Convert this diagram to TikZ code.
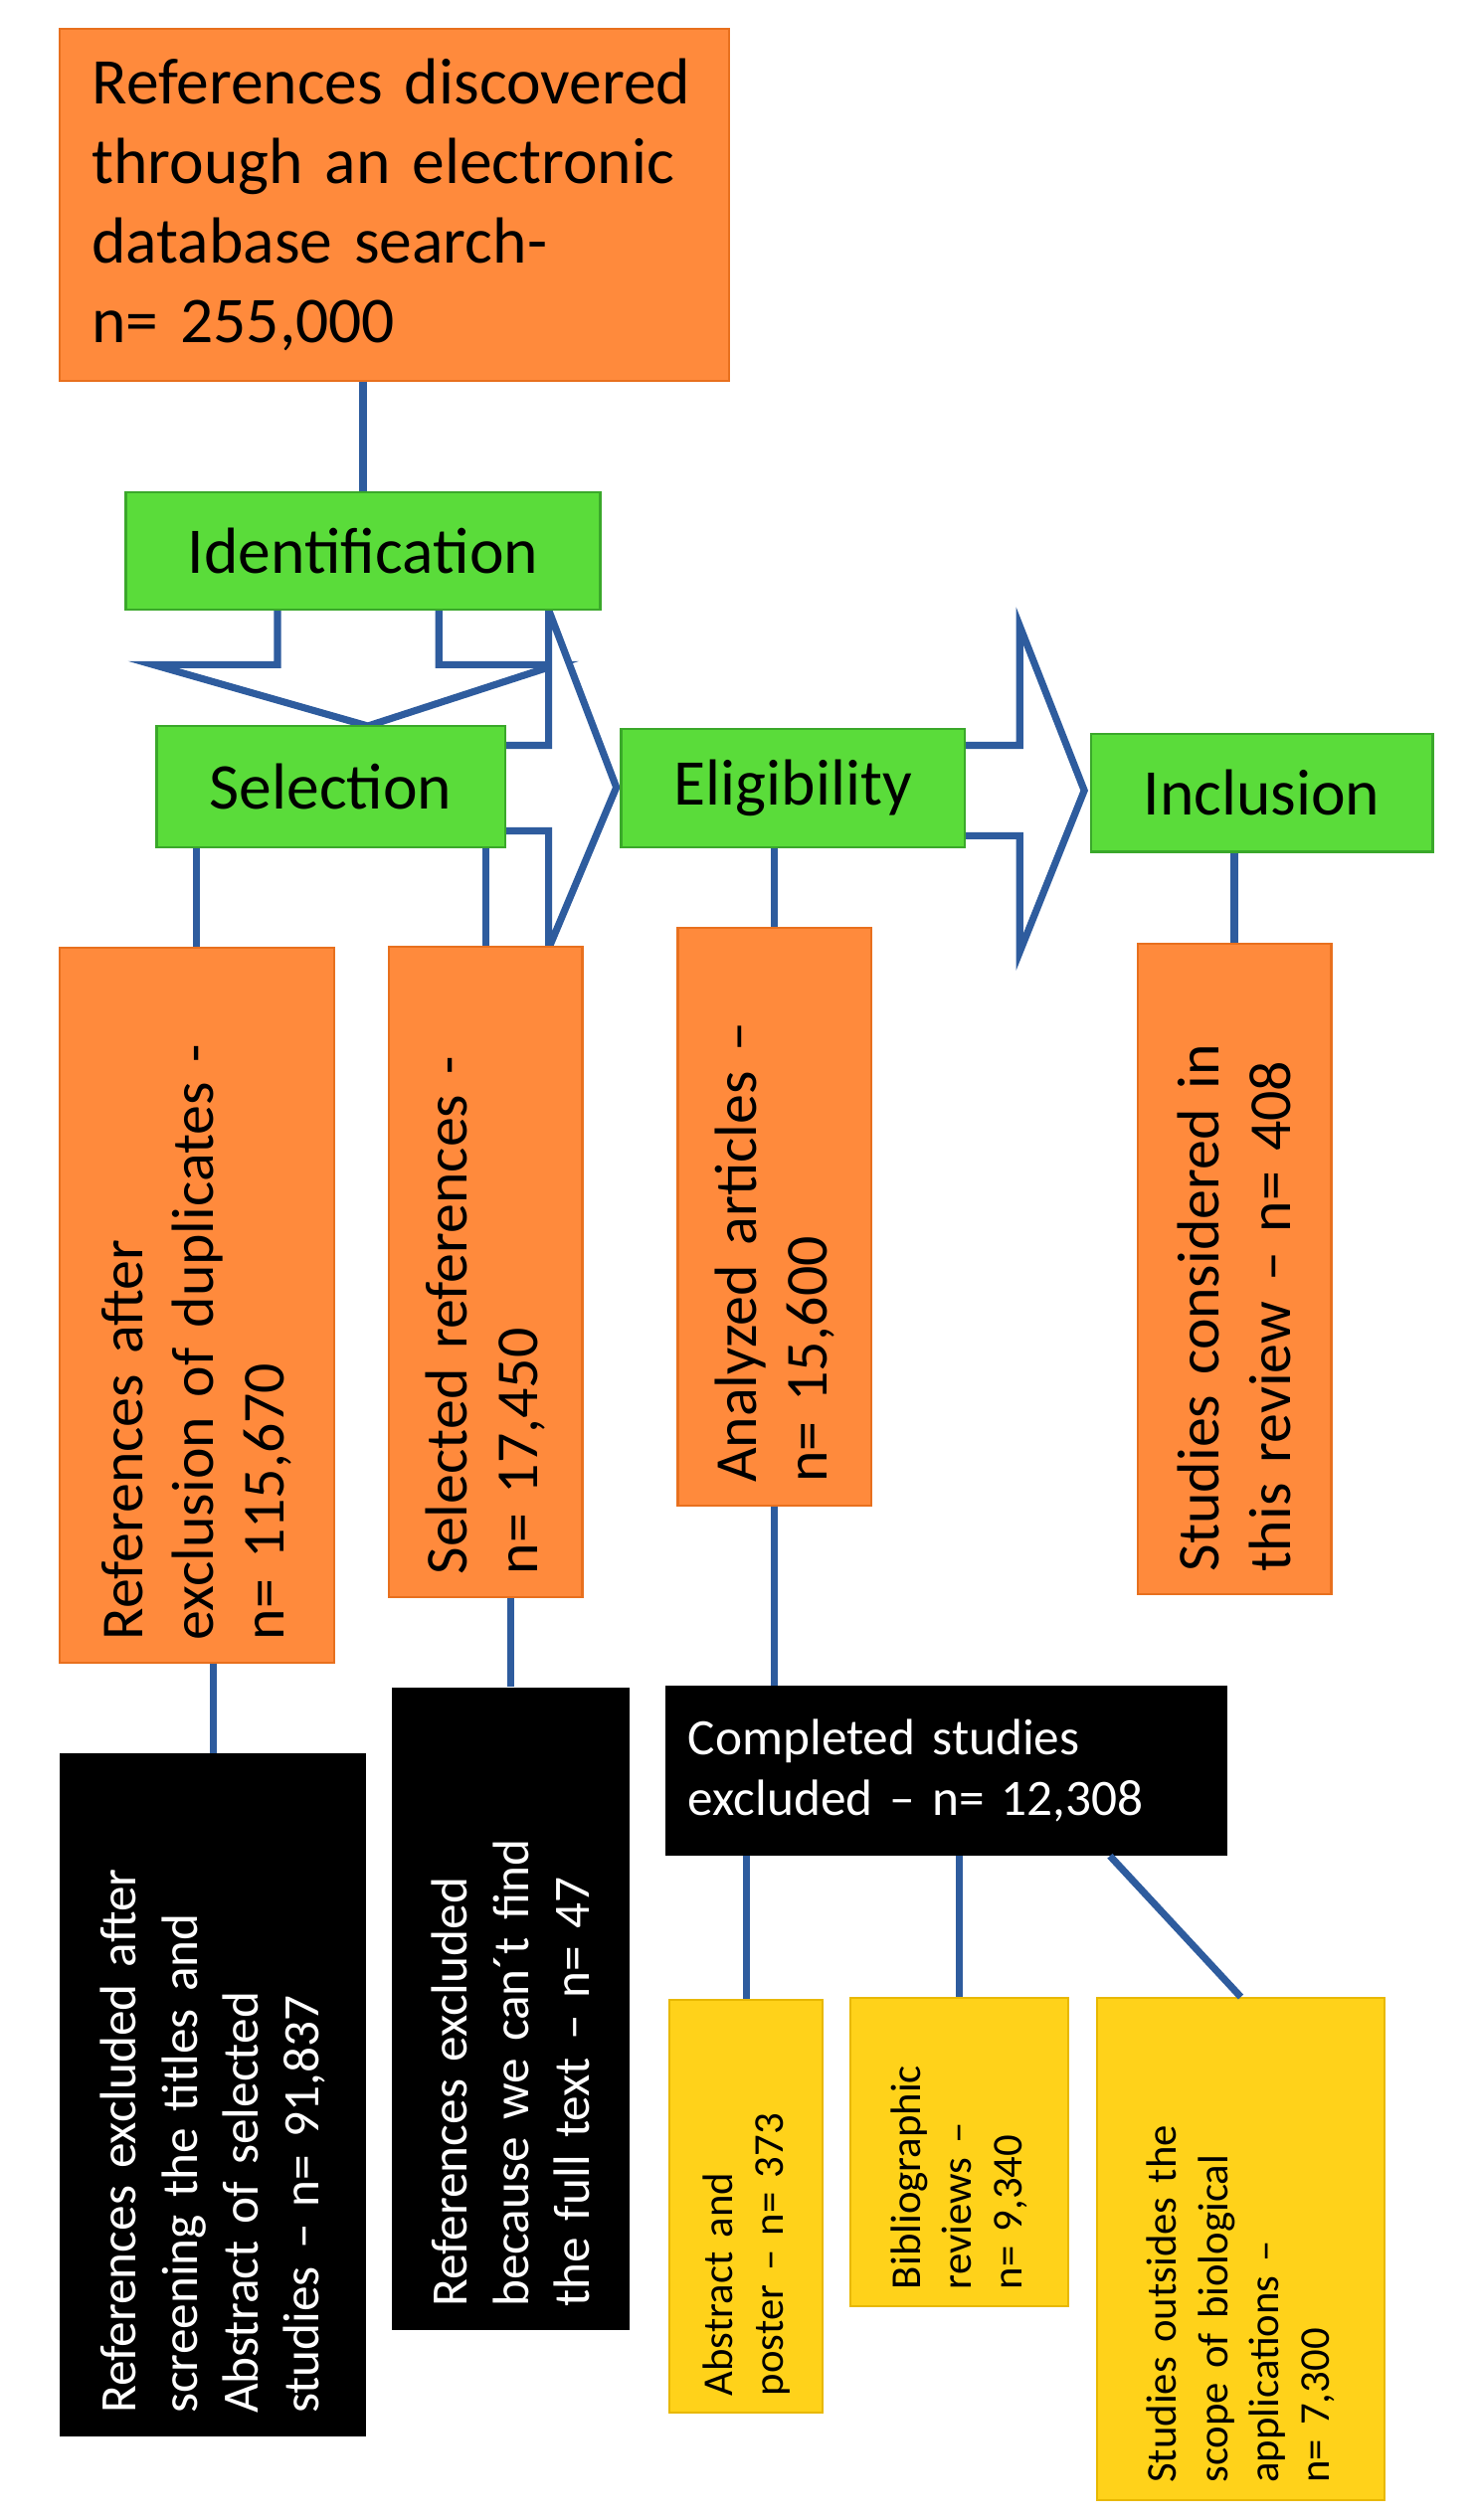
\documentclass[tikz,border=0pt]{standalone}
\usepackage{fontspec}
\setmainfont{Carlito}
\definecolor{org}{HTML}{FF8A3C}
\definecolor{orgd}{HTML}{E8701E}
\definecolor{grn}{HTML}{5ADC3A}
\definecolor{grnd}{HTML}{3AA82A}
\definecolor{yl}{HTML}{FFD21A}
\definecolor{yld}{HTML}{E8B800}
\definecolor{bl}{HTML}{2E5C9E}
\begin{document}
\begin{tikzpicture}[x=0.02cm,y=-0.02cm,
  orange/.style={fill=org, draw=orgd, line width=0.8pt, inner sep=8pt},
  green/.style={fill=grn, draw=grnd, line width=0.8pt, font=\fontsize{23}{28}\selectfont},
  blk/.style={fill=black, text=white, inner sep=8pt},
  yel/.style={fill=yl, draw=yld, line width=0.8pt, inner sep=6pt, font=\fontsize{15}{18}\selectfont},
  con/.style={draw=bl, line width=2.5pt},
  harrow/.style={draw=bl, line width=2.5pt, fill=white, line join=miter}]
\useasboundingbox (0,0) rectangle (915,1562);
% hollow arrows
\draw[harrow] (172,372) -- (172,412) -- (95,412) -- (228,450) -- (345,412) -- (272,412) -- (272,372);
\draw[harrow] (313,462) -- (340,462) -- (340,378) -- (382,488) -- (340,588) -- (340,515) -- (313,515);
\draw[harrow] (598,462) -- (632,462) -- (632,388) -- (672,490) -- (632,590) -- (632,518) -- (598,518);
% boxes
\node[orange, minimum width=8.3cm, minimum height=4.36cm, text width=7.5cm, align=left, font=\fontsize{23}{28}\selectfont] (top) at (244.5,127) {References discovered\\through an electronic\\database search-\\n= 255,000};
\node[green, minimum width=5.88cm, minimum height=1.46cm] (ident) at (225,341.5) {Identification};
\node[green, minimum width=4.32cm, minimum height=1.5cm] (sel) at (205,487.5) {Selection};
\node[green, minimum width=4.26cm, minimum height=1.46cm] (elig) at (491.5,488.5) {Eligibility};
\node[green, minimum width=4.24cm, minimum height=1.46cm] (incl) at (782,491.5) {Inclusion};
\node[orange, rotate=90, minimum width=8.76cm, minimum height=3.4cm, text width=8.3cm, align=left, font=\fontsize{21}{25}\selectfont] (o1) at (122,809) {References after\\exclusion of duplicates -\\n= 115,670};
\node[orange, rotate=90, minimum width=7.94cm, minimum height=2.4cm, text width=7.5cm, align=left, font=\fontsize{21}{25}\selectfont] (o2) at (301,788.5) {Selected references -\\n= 17,450};
\node[orange, rotate=90, minimum width=7.04cm, minimum height=2.4cm, text width=6.6cm, align=left, font=\fontsize{21}{25}\selectfont] (o3) at (480,754) {Analyzed articles –\\n= 15,600};
\node[orange, rotate=90, minimum width=7.94cm, minimum height=2.4cm, text width=7.5cm, align=left, font=\fontsize{21}{25}\selectfont] (o4) at (765,786.5) {Studies considered in\\this review – n= 408};
\node[blk, rotate=90, minimum width=8.26cm, minimum height=3.8cm, text width=7.9cm, align=left, font=\fontsize{18}{21.5}\selectfont] (b1) at (132,1298.5) {References excluded after\\screening the titles and\\Abstract of selected\\studies – n= 91,837};
\node[blk, rotate=90, minimum width=7.8cm, minimum height=2.94cm, text width=7.4cm, align=left, font=\fontsize{18}{21.5}\selectfont] (b2) at (316.5,1245) {References excluded\\because we can´t find\\the full text – n= 47};
\node[blk, minimum width=6.86cm, minimum height=2.1cm, text width=6.4cm, align=left, font=\fontsize{18}{21.5}\selectfont] (b3) at (586.5,1097.5) {Completed studies\\excluded – n= 12,308};
\node[yel, rotate=90, minimum width=4.98cm, minimum height=1.9cm, text width=4.7cm, align=left] (y1) at (462.5,1367.5) {Abstract and\\poster – n= 373};
\node[yel, rotate=90, minimum width=3.64cm, minimum height=2.7cm, text width=3.4cm, align=left] (y2) at (594.5,1334) {Bibliographic\\reviews –\\n= 9,340};
\node[yel, rotate=90, minimum width=6.04cm, minimum height=3.56cm, text width=5.8cm, align=left] (y3) at (769,1394) {Studies outsides the\\scope of biological\\applications –\\n= 7,300};
% connectors
\draw[con] (ident.north |- top.south) -- (ident.north);
\draw[con] (o1.east |- sel.south) -- (o1.east);
\draw[con] (o2.east |- sel.south) -- (o2.east);
\draw[con] (o3.east |- elig.south) -- (o3.east);
\draw[con] (o4.east |- incl.south) -- (o4.east);
\draw[con] (b1.east |- o1.west) -- (b1.east);
\draw[con] (b2.east |- o2.west) -- (b2.east);
\draw[con] (o3.west) -- (o3.west |- b3.north);
\draw[con] (y1.east |- b3.south) -- (y1.east);
\draw[con] (y2.east |- b3.south) -- (y2.east);
\draw[con] (b3.south east) ++(-73,0) -- (y3.east);
\end{tikzpicture}
\end{document}
